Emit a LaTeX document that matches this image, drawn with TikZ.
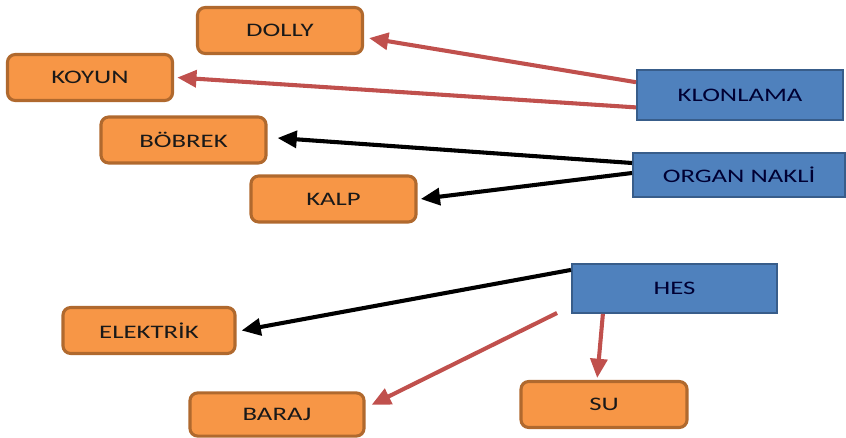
\documentclass[tikz,border=0pt]{standalone}
\usepackage{fontspec}
\setmainfont{Carlito}[FakeStretch=1.4]
\usetikzlibrary{arrows.meta}

\definecolor{leaffill}{HTML}{F79646}
\definecolor{leafline}{HTML}{B0692E}
\definecolor{topicfill}{HTML}{4F81BD}
\definecolor{topicline}{HTML}{385D8A}
\definecolor{linkred}{HTML}{C0504D}

\tikzset{
  leaf/.style={draw=leafline,fill=leaffill,line width=2.2pt,rounded corners=5.5pt,
    minimum width=4.125cm,minimum height=1.15cm,inner sep=0pt,
    text=black!90,font=\fontsize{13.6}{16}\selectfont},
  topic/.style={draw=topicline,fill=topicfill,line width=1.4pt,
    minimum height=1.2cm,inner sep=0pt,
    text=black!80!blue,font=\fontsize{13.6}{16}\selectfont},
  redlink/.style={draw=linkred,line width=2.9pt,-{Triangle[length=0.48cm,width=0.42cm]}},
  blacklink/.style={draw=black,line width=2.9pt,-{Triangle[length=0.48cm,width=0.42cm]}}
}

\begin{document}
\begin{tikzpicture}[x=0.025cm,y=-0.025cm]
\useasboundingbox (0,0) rectangle (846,438);
% leaves
\node[leaf] (dolly) at (280,30.5) {DOLLY};
\node[leaf] (koyun) at (90,77.5) {KOYUN};
\node[leaf] (bobrek) at (183.5,140) {BÖBREK};
\node[leaf] (kalp) at (333.5,199) {KALP};
\node[leaf,minimum width=4.3cm] (elektrik) at (149,330.5) {ELEKTRİK};
\node[leaf,minimum width=4.35cm,minimum height=1.08cm] (baraj) at (277,414.5) {BARAJ};
\node[leaf,minimum width=4.15cm] (su) at (604,404.5) {SU};
% topics
\node[topic,minimum width=5.15cm,minimum height=1.25cm] (klon) at (740,95) {KLONLAMA};
\node[topic,minimum width=5.3cm,minimum height=1.1cm] (organ) at (739,175) {ORGAN NAKLİ};
\node[topic,minimum width=5.125cm,minimum height=1.22cm] (hes) at (674.5,288.5) {HES};
\coordinate (barajstart) at (557,313);
% links
\draw[redlink] ([yshift=0.32cm]klon.west) -- ([xshift=0.125cm,yshift=-0.19cm]dolly.east);
\draw[redlink] ([yshift=-0.31cm]klon.west) -- ([xshift=0.08cm]koyun.east);
\draw[blacklink] ([yshift=0.3cm]organ.west) -- ([xshift=0.25cm,yshift=0.05cm]bobrek.east);
\draw[blacklink] ([yshift=0.05cm]organ.west) -- ([xshift=0.08cm]kalp.east);
\draw[blacklink] ([yshift=-0.17cm]hes.north west) -- ([xshift=0.125cm]elektrik.east);
\draw[redlink] (barajstart) -- ([xshift=0.15cm,yshift=0.24cm]baraj.east);
\draw[redlink] ([xshift=-1.79cm]hes.south) -- ([xshift=-0.17cm,yshift=0.05cm]su.north);
\end{tikzpicture}
\end{document}
